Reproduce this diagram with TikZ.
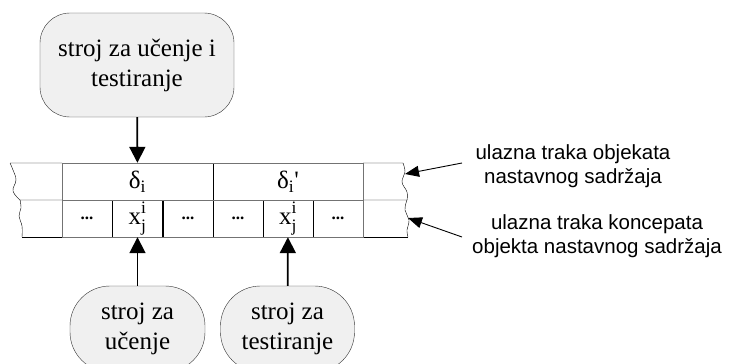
\documentclass[tikz,border=0pt]{standalone}
\usepackage{fontspec}
\setmainfont{Liberation Serif}
\newfontfamily\labelfont{Liberation Sans}
\usetikzlibrary{arrows.meta,positioning}
\tikzset{
  machine/.style={draw=black!80,fill=black!6,rounded corners=30pt,align=center,
    font=\fontsize{25}{30}\selectfont,inner sep=0pt},
  cell/.style={draw,minimum height=37pt,inner sep=0pt,font=\fontsize{25}{26}\selectfont},
  bigarrow/.style={line width=1.8pt,-{Triangle[length=16pt,width=16pt]}},
  thinarrow/.style={line width=0.9pt,-{Triangle[length=14pt,width=11pt]}},
  tapelabel/.style={align=center,font=\labelfont\fontsize{20.5}{23.5}\selectfont}
}
\newcommand{\dts}{\textbf{\fontsize{17}{18}\selectfont ...}}
\newcommand{\xji}{x\rlap{\raisebox{-3pt}{\textsubscript{j}}}\raisebox{2pt}{\textsuperscript{i}}}
\begin{document}
\begin{tikzpicture}[x=1pt,y=-1pt]
  \useasboundingbox (0,0) rectangle (732,364);
  \clip (0,0) rectangle (732,364);
  % machines
  \node[machine,minimum width=194pt,minimum height=104pt] at (137,65) (uct) {stroj za u\v{c}enje i\\testiranje};
  \node[machine,rounded corners=40pt,minimum width=135pt,minimum height=86pt] at (137.5,329) (uc) {stroj za\\u\v{c}enje};
  \node[machine,rounded corners=40pt,minimum width=134pt,minimum height=86pt] at (287.5,329) (te) {stroj za\\testiranje};
  % tape: outer ends
  \draw (62,163) -- (10,163) plot[smooth,tension=0.7] coordinates
    {(10,163) (13,170) (16,180) (13,191) (20,200)};
  \draw (62,200) -- (20,200) plot[smooth,tension=0.7] coordinates
    {(20,200) (21,208) (19,216) (22,226) (22,237)};
  \draw (22,237) -- (62,237);
  \draw (363,163) -- (403,163) plot[smooth,tension=0.7] coordinates
    {(403,163) (405,172) (402,182) (407,192) (407,200)};
  \draw (363,200) -- (407,200) plot[smooth,tension=0.7] coordinates
    {(407,200) (405,210) (409,220) (407,230) (408,237)};
  \draw (363,237) -- (408,237);
  % tape: objects
  \node[cell,minimum width=151pt] at (137.5,181.5) (d1) {δ\textsubscript{i}};
  \node[cell,minimum width=150pt] at (288,181.5) (d2) {δ\textsubscript{i}\textquotesingle};
  % tape: concepts
  \node[cell,minimum width=50.3pt] at (87,218.5) (c1) {\dts};
  \node[cell,minimum width=50.3pt] at (137.5,218.5) (x1) {\xji};
  \node[cell,minimum width=50.3pt] at (188,218.5) (c3) {\dts};
  \node[cell,minimum width=50pt] at (238,218.5) (c4) {\dts};
  \node[cell,minimum width=50pt] at (288,218.5) (x2) {\xji};
  \node[cell,minimum width=50pt] at (338,218.5) (c6) {\dts};
  \draw[black!55,line width=1pt] (62,163) rectangle (363,237);
  \draw[black!55,line width=1pt] (62,200) -- (363,200);
  % connectors
  \draw[bigarrow] (uct) -- (d1);
  \draw[bigarrow] (uc) -- (x1);
  \draw[bigarrow] (te) -- (x2);
  % labels
  \node[tapelabel] at (573,166) (lobj) {ulazna traka objekata\\nastavnog sadr\v{z}aja};
  \node[tapelabel] at (597,236) (lkon) {ulazna traka koncepata\\objekta nastavnog sadr\v{z}aja};
  \coordinate (eobj) at (405,174);
  \coordinate (ekon) at (408,218);
  \draw[thinarrow] (462,163) coordinate (sobj) -- (eobj);
  \draw[thinarrow] (462,237) coordinate (skon) -- (ekon);
\end{tikzpicture}
\end{document}
